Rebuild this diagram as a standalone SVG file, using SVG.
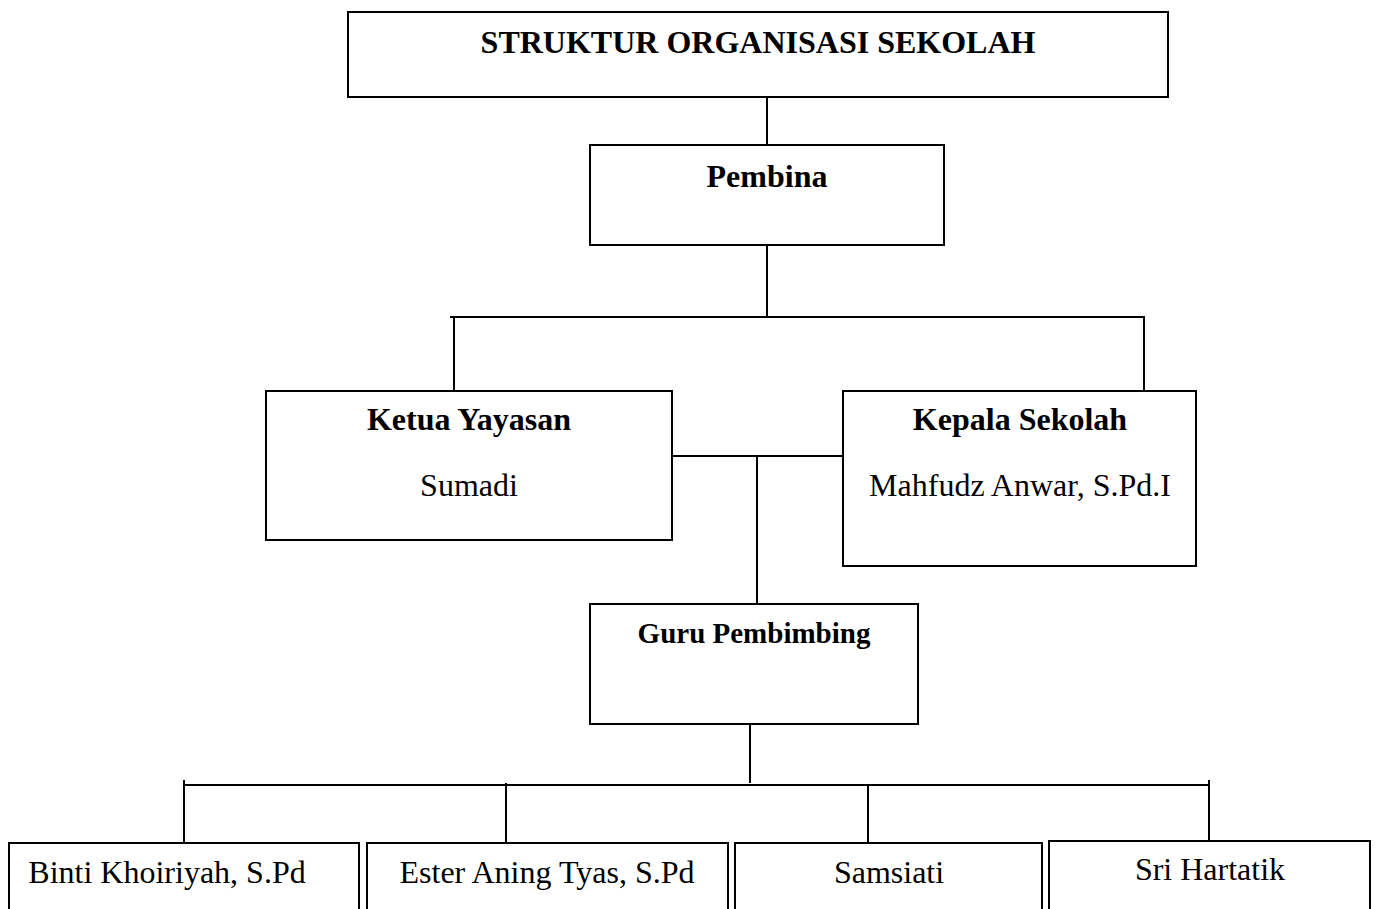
<svg xmlns="http://www.w3.org/2000/svg" width="1376" height="909" viewBox="0 0 1376 909">
<style>
.box{fill:#fff;stroke:#000;stroke-width:2}
.ln{stroke:#000;stroke-width:2;fill:none}
.b{font-family:"Liberation Serif","Times New Roman",serif;font-weight:bold;font-size:32px;fill:#000;text-anchor:middle}
.r{font-family:"Liberation Serif","Times New Roman",serif;font-size:32px;fill:#000;text-anchor:middle}
</style>
<rect width="1376" height="909" fill="#fff"/>
<g id="connectors">
<line class="ln" x1="767" y1="97" x2="767" y2="145"/>
<line class="ln" x1="767" y1="245" x2="767" y2="317"/>
<line class="ln" x1="450" y1="317" x2="1145" y2="317"/>
<line class="ln" x1="454" y1="317" x2="454" y2="391"/>
<line class="ln" x1="1144" y1="317" x2="1144" y2="391"/>
<line class="ln" x1="672" y1="456" x2="843" y2="456"/>
<line class="ln" x1="757" y1="456" x2="757" y2="604"/>
<line class="ln" x1="750" y1="724" x2="750" y2="783"/>
<line class="ln" x1="184" y1="785" x2="1209" y2="785"/>
<line class="ln" x1="184" y1="780" x2="184" y2="843"/>
<line class="ln" x1="506" y1="783" x2="506" y2="843"/>
<line class="ln" x1="868" y1="785" x2="868" y2="848"/>
<line class="ln" x1="1209" y1="780" x2="1209" y2="841"/>
</g>
<g id="title">
<rect class="box" x="348" y="12" width="820" height="85"/>
<text class="b" x="758" y="53">STRUKTUR ORGANISASI SEKOLAH</text>
</g>
<g id="pembina">
<rect class="box" x="590" y="145" width="354" height="100"/>
<text class="b" x="767" y="187">Pembina</text>
</g>
<g id="ketua">
<rect class="box" x="266" y="391" width="406" height="149"/>
<text class="b" x="469" y="430">Ketua Yayasan</text>
<text class="r" x="469" y="496">Sumadi</text>
</g>
<g id="kepala">
<rect class="box" x="843" y="391" width="353" height="175"/>
<text class="b" x="1020" y="430">Kepala Sekolah</text>
<text class="r" x="1020" y="496">Mahfudz Anwar, S.Pd.I</text>
</g>
<g id="guru">
<rect class="box" x="590" y="604" width="328" height="120"/>
<text class="b" x="754" y="643" style="font-size:29px">Guru Pembimbing</text>
</g>
<g id="binti">
<rect class="box" x="9" y="843" width="350" height="80"/>
<text class="r" x="167" y="883">Binti Khoiriyah, S.Pd</text>
</g>
<g id="ester">
<rect class="box" x="367" y="843" width="361" height="80"/>
<text class="r" x="547" y="883">Ester Aning Tyas, S.Pd</text>
</g>
<g id="samsiati">
<rect class="box" x="735" y="843" width="307" height="80"/>
<text class="r" x="889" y="883">Samsiati</text>
</g>
<g id="sri">
<rect class="box" x="1049" y="841" width="321" height="80"/>
<text class="r" x="1210" y="880">Sri Hartatik</text>
</g>
</svg>
